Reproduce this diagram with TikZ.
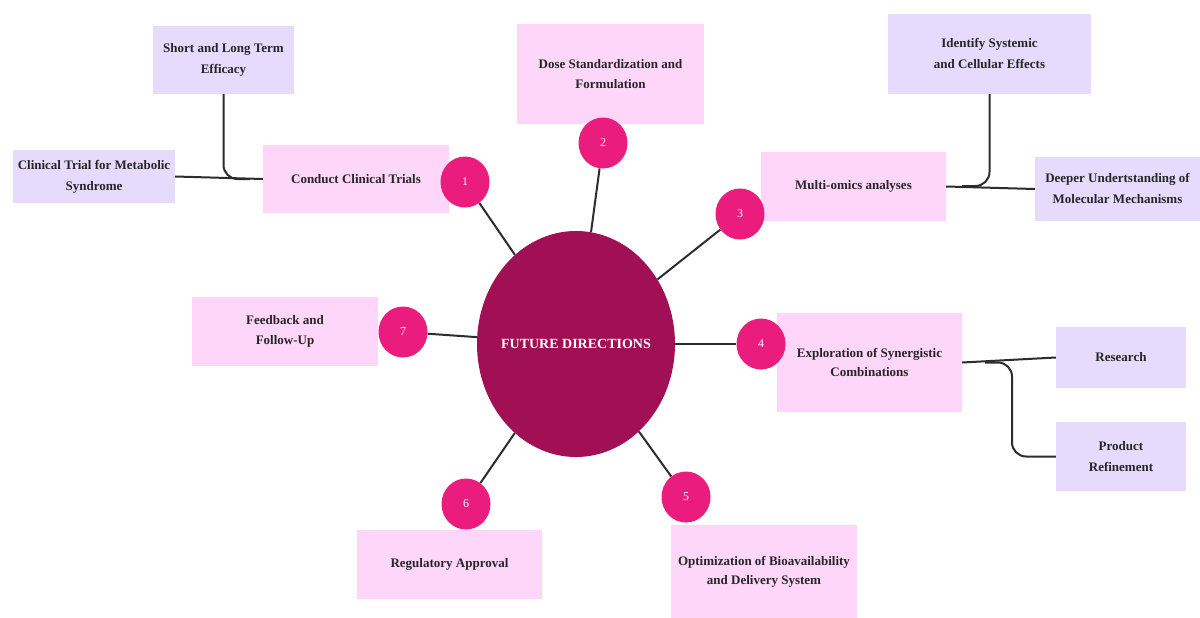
\documentclass[tikz,border=0pt]{standalone}
\usepackage{fontspec}
\setmainfont{Liberation Serif}
\usetikzlibrary{shapes.geometric,backgrounds}
\definecolor{pinkbox}{RGB}{253,214,250}
\definecolor{purplebox}{RGB}{230,219,253}
\definecolor{dotpink}{RGB}{234,28,125}
\definecolor{hubred}{RGB}{161,15,84}
\definecolor{linegray}{RGB}{45,45,45}
\tikzset{
  pbox/.style={rectangle, fill=pinkbox, draw=none, inner sep=0pt, align=center,
    font=\fontsize{13}{19.5}\selectfont\bfseries, text=black!85},
  vbox/.style={rectangle, fill=purplebox, draw=none, inner sep=0pt, align=center,
    font=\fontsize{13}{21}\selectfont\bfseries, text=black!85},
  numdot/.style={ellipse, fill=dotpink, draw=none, minimum width=49pt, minimum height=51pt,
    inner sep=0pt, text=white, font=\fontsize{12}{13}\selectfont},
  spoke/.style={draw=linegray, line width=2pt},
  branch/.style={draw=linegray, line width=2pt, rounded corners=14pt},
}
\begin{document}
\begin{tikzpicture}[x=1pt,y=-1pt]
\useasboundingbox (0,0) rectangle (1200,618);

% main boxes and sub boxes (behind the dots)
\begin{pgfonlayer}{background}
\fill[white] (0,0) rectangle (1200,618);
\node[pbox, minimum width=186pt, minimum height=68pt] (conduct) at (356,179) {Conduct Clinical Trials};
\node[pbox, minimum width=187pt, minimum height=100pt] (dose) at (610.5,74) {Dose Standardization and\\Formulation};
\node[pbox, minimum width=185pt, minimum height=69pt] (multi) at (853.5,186.5) {Multi-omics analyses};
\node[pbox, minimum width=185pt, minimum height=99pt] (explo) at (869.5,362.5) {Exploration of Synergistic\\Combinations};
\node[pbox, minimum width=186pt, minimum height=94pt] (optim) at (764,572) {Optimization of Bioavailability\\and Delivery System};
\node[pbox, minimum width=185pt, minimum height=69pt] (regul) at (449.5,564.5) {Regulatory Approval};
\node[pbox, minimum width=186pt, minimum height=69pt] (feed) at (285,331.5) {Feedback and\\Follow-Up};

\node[vbox, minimum width=141pt, minimum height=68pt] (short) at (223.5,60) {Short and Long Term\\Efficacy};
\node[vbox, minimum width=162pt, minimum height=53pt] (clinmet) at (94,176.5) {Clinical Trial for Metabolic\\Syndrome};
\node[vbox, minimum width=203pt, minimum height=80pt] (ident) at (989.5,54) {Identify Systemic\\and Cellular Effects};
\node[vbox, minimum width=165pt, minimum height=64pt] (deeper) at (1117.5,189) {Deeper Undertstanding of\\Molecular Mechanisms};
\node[vbox, minimum width=130pt, minimum height=61pt] (research) at (1121,357.5) {Research};
\node[vbox, minimum width=130pt, minimum height=69pt] (product) at (1121,456.5) {Product\\Refinement};
\end{pgfonlayer}

% hub
\node[ellipse, fill=hubred, minimum width=198pt, minimum height=226pt, inner xsep=-6pt, inner ysep=0pt,
  text=white, font=\fontsize{14}{16}\selectfont\bfseries] (hub) at (576,344) {FUTURE DIRECTIONS};

% numbered dots
\node[numdot] (c1) at (465,182) {1};
\node[numdot] (c2) at (603,143) {2};
\node[numdot] (c3) at (740,214) {3};
\node[numdot] (c4) at (761,344) {4};
\node[numdot] (c5) at (686,497) {5};
\node[numdot] (c6) at (466,504) {6};
\node[numdot] (c7) at (403,332) {7};

% spokes
\draw[spoke] (hub) -- (c1);
\draw[spoke] (hub) -- (c2);
\draw[spoke] (hub) -- (c3);
\draw[spoke] (hub) -- (c4);
\draw[spoke] (hub) -- (c5);
\draw[spoke] (hub) -- (c6);
\draw[spoke] (hub) -- (c7);

% branch connectors
\coordinate (j1) at (250,179);
\draw[branch] (conduct.west) -- (clinmet.east);
\draw[branch] (short.south) |- (j1);

\coordinate (j3) at (962,186);
\draw[branch] (multi.east) -- (deeper.west);
\draw[branch] (ident.south) |- (j3);

\coordinate (j4) at (985,362.5);
\coordinate (k4) at (1012,456.5);
\draw[branch] (explo.east) -- (research.west);
\draw[branch] (j4) -| (k4) -- (product.west);
\end{tikzpicture}
\end{document}
